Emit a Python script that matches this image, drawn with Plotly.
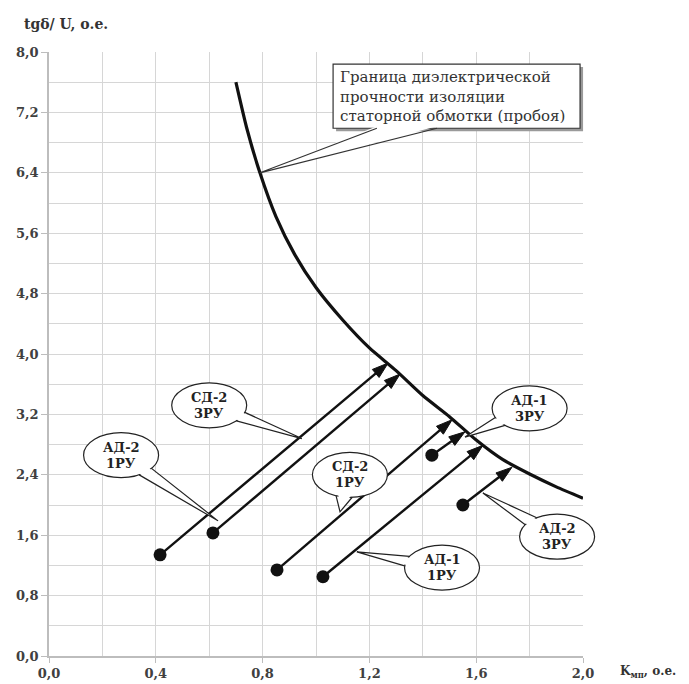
import math
import plotly.graph_objects as go

# ---------------- data ----------------
boundary_x = [0.70, 0.74, 0.79, 0.85, 0.92, 1.00, 1.10, 1.20, 1.30, 1.40, 1.50, 1.60, 1.70, 1.80, 1.90, 2.00]
boundary_y = [7.60, 7.00, 6.40, 5.82, 5.32, 4.88, 4.45, 4.08, 3.78, 3.45, 3.17, 2.86, 2.60, 2.41, 2.24, 2.09]

arrow_names = ["СД-2 3РУ", "АД-2 1РУ", "СД-2 1РУ", "АД-1 1РУ", "АД-1 3РУ", "АД-2 3РУ"]
arrow_x0 = [0.416, 0.614, 0.854, 1.026, 1.434, 1.550]
arrow_y0 = [1.34, 1.63, 1.14, 1.05, 2.66, 2.00]
arrow_x1 = [1.270, 1.315, 1.510, 1.625, 1.558, 1.734]
arrow_y1 = [3.88, 3.735, 3.13, 2.79, 2.97, 2.50]

label_line1 = ["СД-2", "АД-2", "СД-2", "АД-1", "АД-1", "АД-2"]
label_line2 = ["3РУ", "1РУ", "1РУ", "1РУ", "3РУ", "3РУ"]
label_cx = [0.600, 0.270, 1.127, 1.472, 1.800, 1.903]
label_cy = [3.32, 2.66, 2.40, 1.17, 3.28, 1.58]
label_tip_x = [0.947, 0.633, 1.090, 1.153, 1.558, 1.625]
label_tip_y = [2.88, 1.79, 1.91, 1.38, 2.90, 2.16]

box_text = "Граница диэлектрической<br>прочности изоляции<br>статорной обмотки (пробоя)"
box_x = [1.064, 1.989]
box_y = [6.99, 7.84]
box_tip = (0.79, 6.40)
box_base_x = [1.228, 1.453]

x_ticks = [0.0, 0.4, 0.8, 1.2, 1.6, 2.0]
y_ticks = [0.0, 0.8, 1.6, 2.4, 3.2, 4.0, 4.8, 5.6, 6.4, 7.2, 8.0]

# ---------------- layout constants ----------------
W, H = 689, 684
ML, MR, MT, MB = 49, 106, 52, 28
PW, PH = W - ML - MR, H - MT - MB
XR, YR = (0, 2), (0, 8)
FONT = "DejaVu Serif"
INK = "#111111"


def d2p(x, y):
    """data -> plot-area pixels (y up)"""
    return (x - XR[0]) / (XR[1] - XR[0]) * PW, (y - YR[0]) / (YR[1] - YR[0]) * PH


def p2paper(X, Y):
    return X / PW, Y / PH


def path(points, close=True):
    s = ""
    for i, (X, Y) in enumerate(points):
        px, py = p2paper(X, Y)
        s += ("M" if i == 0 else "L") + f"{px:.5f},{py:.5f}"
    return s + ("Z" if close else "")


fig = go.Figure()

# boundary curve
fig.add_trace(go.Scatter(x=boundary_x, y=boundary_y, mode="lines",
                         line=dict(color=INK, width=3.2, shape="spline", smoothing=0.6),
                         hoverinfo="skip", showlegend=False))

# arrows (line + arrowhead)
for i in range(len(arrow_names)):
    fig.add_trace(go.Scatter(
        x=[arrow_x0[i], arrow_x1[i]], y=[arrow_y0[i], arrow_y1[i]],
        mode="lines+markers", name=arrow_names[i],
        line=dict(color=INK, width=2.4),
        marker=dict(symbol="arrow", size=17, color=INK, opacity=1,
                    angleref="previous", line=dict(width=1, color=INK)),
        showlegend=False))

# start dots
fig.add_trace(go.Scatter(x=arrow_x0, y=arrow_y0, mode="markers",
                         marker=dict(symbol="circle", size=13, color=INK, line=dict(width=0)),
                         showlegend=False, hoverinfo="skip"))

shapes = []
annotations = []

# bubble callouts
BW, BH = 75, 45
for i in range(len(label_line1)):
    cx, cy = d2p(label_cx[i], label_cy[i])
    tx, ty = d2p(label_tip_x[i], label_tip_y[i])
    a, b = BW / 2, BH / 2
    th = math.atan2((ty - cy) / b, (tx - cx) / a)
    dl = 0.22
    p1 = (cx + a * math.cos(th - dl), cy + b * math.sin(th - dl))
    p2 = (cx + a * math.cos(th + dl), cy + b * math.sin(th + dl))
    q1 = (cx + 0.85 * a * math.cos(th - dl), cy + 0.85 * b * math.sin(th - dl))
    q2 = (cx + 0.85 * a * math.cos(th + dl), cy + 0.85 * b * math.sin(th + dl))
    x0, y0 = p2paper(cx - a, cy - b)
    x1, y1 = p2paper(cx + a, cy + b)
    shapes.append(dict(type="circle", xref="paper", yref="paper", x0=x0, y0=y0, x1=x1, y1=y1,
                       fillcolor="white", line=dict(color="#222222", width=1.2)))
    shapes.append(dict(type="path", xref="paper", yref="paper", path=path([q1, (tx, ty), q2]),
                       fillcolor="white", line=dict(width=0)))
    shapes.append(dict(type="path", xref="paper", yref="paper", path=path([p1, (tx, ty), p2], close=False),
                       line=dict(color="#222222", width=1.2)))
    for txt, sh in ((label_line1[i], 8), (label_line2[i], -8)):
        annotations.append(dict(x=label_cx[i], y=label_cy[i], xref="x", yref="y", text=txt, yshift=sh,
                                showarrow=False,
                                font=dict(family=FONT, size=13, color="#222222", weight="bold")))

# big text box callout
bx0, by0 = d2p(box_x[0], box_y[0])
bx1, by1 = d2p(box_x[1], box_y[1])
sx0, sy0 = p2paper(bx0 + 3, by0 - 3)
sx1, sy1 = p2paper(bx1 + 3, by1 - 3)
shapes.append(dict(type="rect", xref="paper", yref="paper", x0=sx0, y0=sy0, x1=sx1, y1=sy1,
                   fillcolor="#9a9a9a", line=dict(width=0)))
px0, py0 = p2paper(bx0, by0)
px1, py1 = p2paper(bx1, by1)
shapes.append(dict(type="rect", xref="paper", yref="paper", x0=px0, y0=py0, x1=px1, y1=py1,
                   fillcolor="white", line=dict(color="#333333", width=1.2)))
tx, ty = d2p(*box_tip)
b1 = d2p(box_base_x[0], box_y[0])
b2 = d2p(box_base_x[1], box_y[0])
shapes.append(dict(type="path", xref="paper", yref="paper",
                   path=path([(b1[0], b1[1] + 2), (tx, ty), (b2[0], b2[1] + 2)]),
                   fillcolor="white", line=dict(width=0)))
shapes.append(dict(type="path", xref="paper", yref="paper", path=path([b1, (tx, ty), b2], close=False),
                   line=dict(color="#333333", width=1.2)))
annotations.append(dict(x=box_x[0] + 0.02, y=(box_y[0] + box_y[1]) / 2, xref="x", yref="y",
                        text=box_text, showarrow=False, xanchor="left", yanchor="middle", align="left",
                        font=dict(family=FONT, size=15, color="#333333")))

# axis titles
annotations.append(dict(x=(22 - ML) / PW, y=(H - 24 - MB) / PH, xref="paper", yref="paper",
                        xanchor="left", yanchor="middle",
                        text="tgδ/ U, о.е.", showarrow=False,
                        font=dict(family=FONT, size=14, color="#333333", weight="bold")))
annotations.append(dict(x=(618 - ML) / PW, y=-16 / PH, xref="paper", yref="paper",
                        xanchor="left", yanchor="middle",
                        text="K<sub>мп</sub>, о.е.", showarrow=False,
                        font=dict(family=FONT, size=12, color="#333333", weight="bold")))

fig.update_layout(
    width=W, height=H,
    margin=dict(l=ML, r=MR, t=MT, b=MB, pad=0),
    paper_bgcolor="white", plot_bgcolor="white",
    separators=", ",
    shapes=shapes, annotations=annotations,
    showlegend=False,
)

axis_common = dict(showgrid=True, gridcolor="#d6d6d6", gridwidth=1, zeroline=False,
                   showline=True, linecolor="#bdbdbd", linewidth=1.5,
                   ticks="outside", tickcolor="#bdbdbd", tickwidth=1,
                   tickfont=dict(family=FONT, size=13, color="#404040", weight="bold"),
                   tickformat=".1f", tickmode="array", fixedrange=True, automargin=False)
fig.update_xaxes(range=list(XR), tickvals=x_ticks, ticklen=5,
                 minor=dict(dtick=0.2, tick0=0, showgrid=True, gridcolor="#d6d6d6", ticks=""),
                 **axis_common)
fig.update_yaxes(range=list(YR), tickvals=y_ticks, ticklen=6,
                 minor=dict(dtick=0.4, tick0=0, showgrid=True, gridcolor="#d6d6d6", ticks=""),
                 **axis_common)

fig.write_html("out.html", config={"displayModeBar": False},
               post_script="document.body.style.margin='0px';")
